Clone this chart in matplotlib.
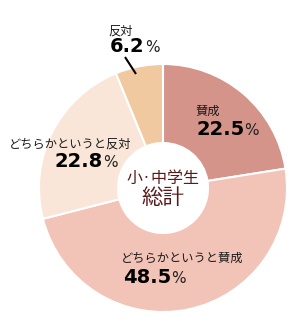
import matplotlib.pyplot as plt

plt.rcParams['font.family'] = ['Noto Sans CJK JP', 'DejaVu Sans']

# data
labels = ['賛成', 'どちらかというと賛成', 'どちらかというと反対', '反対']
values = [22.5, 48.5, 22.8, 6.2]
colors = ['#d4948a', '#f2c3b7', '#f9e6d8', '#f0c9a0']
center_lines = ['小·中学生', '総計']

W, H = 295, 332
fig = plt.figure(figsize=(W / 100, H / 100), dpi=100)
ax = fig.add_axes([0, 0, 1, 1])

cx, cy = 163, H - 188
r_out, r_in = 124, 45
ax.pie(values, colors=colors, startangle=90, counterclock=False,
       center=(cx, cy), radius=r_out, frame=True,
       wedgeprops=dict(width=r_out - r_in, edgecolor='white', linewidth=1.5))
ax.set_xlim(0, W)
ax.set_ylim(0, H)
ax.set_aspect('equal')
ax.axis('off')

renderer = fig.canvas.get_renderer()


def pct_label(x, y, val):
    # bold number followed by a lighter percent sign
    t = ax.text(x, y, f'{val:.1f}', fontsize=14, fontweight='bold',
                family='DejaVu Sans', color='black', va='baseline', ha='left')
    bb = t.get_window_extent(renderer=renderer)
    x2 = ax.transData.inverted().transform((bb.x1, bb.y0))[0]
    ax.text(x2, y, '%', fontsize=11, family='DejaVu Sans', color='#222222',
            va='baseline', ha='left')


# label positions (pixel coords, y measured from top)
pos = [(195, 115, 196, 135), (121, 262, 123, 283), (9, 148, 55, 167), (108, 35, 110, 52)]
for lab, val, (lx, ly, px, py) in zip(labels, values, pos):
    ax.text(lx, H - ly, lab, fontsize=8.8, color='#1a1a1a', va='baseline', ha='left')
    pct_label(px, H - py, val)

# leader line for the small slice
ax.plot([125, 136], [H - 57, H - 74], color='black', lw=1.5, solid_capstyle='butt')

ax.text(cx, H - 178, center_lines[0], fontsize=11.5, color='#5a1a1a', ha='center', va='center')
ax.text(cx, H - 198, center_lines[1], fontsize=15.5, color='#5a1a1a', ha='center', va='center')

fig.savefig('out.png', dpi=100, facecolor='white')
